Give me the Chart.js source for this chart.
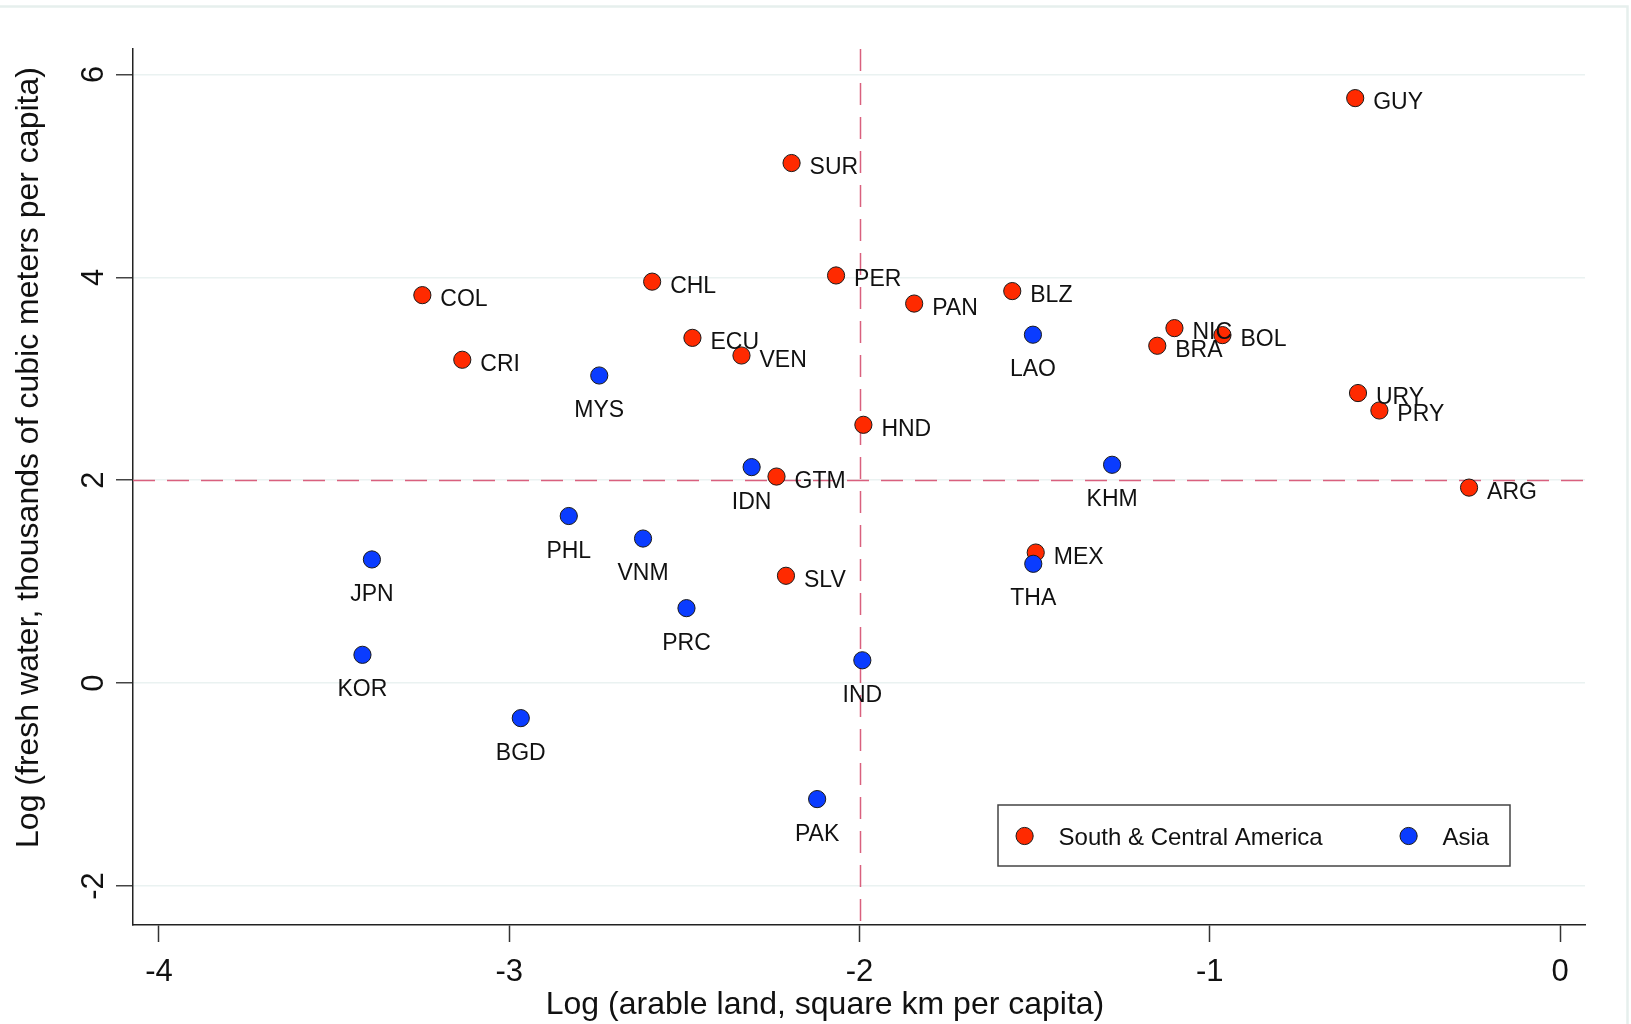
<!DOCTYPE html>
<html><head><meta charset="utf-8">
<script src="https://cdn.jsdelivr.net/npm/chart.js@4.4.1/dist/chart.umd.min.js"></script>
<style>html,body{margin:0;padding:0;background:#fff;}#wrap{width:1631px;height:1024px;position:relative;}</style>
</head><body><div id="wrap"><canvas id="c" width="1631" height="1024"></canvas></div>
<script>
// ---------- data ----------
const seriesNames = ['South & Central America', 'Asia'];
const americaCodes = ['GUY','SUR','COL','CHL','PER','PAN','BLZ','CRI','ECU','VEN','NIC','BRA','BOL','URY','PRY','ARG','HND','GTM','MEX','SLV'];
const americaX = [-0.585,-2.194,-3.248,-2.592,-2.067,-1.844,-1.564,-3.134,-2.477,-2.337,-1.101,-1.150,-0.964,-0.577,-0.516,-0.260,-1.989,-2.237,-1.497,-2.210];
const americaY = [5.766,5.126,3.824,3.957,4.018,3.741,3.864,3.187,3.403,3.229,3.499,3.325,3.430,2.859,2.687,1.927,2.546,2.036,1.287,1.058];
const asiaCodes = ['LAO','MYS','IDN','KHM','PHL','VNM','JPN','THA','PRC','KOR','IND','BGD','PAK'];
const asiaX = [-1.505,-2.743,-2.308,-1.279,-2.830,-2.618,-3.392,-1.504,-2.494,-3.419,-1.992,-2.967,-2.121];
const asiaY = [3.434,3.032,2.129,2.152,1.647,1.425,1.219,1.176,0.739,0.279,0.225,-0.345,-1.143];
const xTicks = [-4,-3,-2,-1,0];
const xTickLabels = ['-4','-3','-2','-1','0'];
const yTicks = [-2,0,2,4,6];
const yTickLabels = ['-2','0','2','4','6'];
const xRange = [-4.074, 0.071];
const yRange = [-2.384, 6.25];
const refX = -2, refY = 2;
const xTitle = 'Log (arable land, square km per capita)';
const yTitle = 'Log (fresh water, thousands of cubic meters per capita)';

// ---------- style ----------
const FAM = '"Liberation Sans", Arial, Helvetica, sans-serif';
const RED = '#ff2a00', BLUE = '#0a3cff', EDGE = '#1a1a1a';
const toPts = (xs, ys) => xs.map((x, i) => ({x: x, y: ys[i]}));

const overlay = {
  id: 'overlay',
  beforeDatasetsDraw(chart) {
    const {ctx, chartArea: a, scales: {x, y}} = chart;
    ctx.save();
    ctx.strokeStyle = '#d9607e';
    ctx.lineWidth = 1.5;
    ctx.setLineDash([22, 12]);
    const px = Math.round(x.getPixelForValue(refX)) + 0.5;
    ctx.beginPath(); ctx.moveTo(px, a.top); ctx.lineTo(px, a.bottom); ctx.stroke();
    const py = Math.round(y.getPixelForValue(refY)) + 0.5;
    ctx.beginPath(); ctx.moveTo(a.left, py); ctx.lineTo(a.right, py); ctx.stroke();
    ctx.restore();
  },
  afterDatasetDraw(chart, args) {
    const ds = chart.data.datasets[args.index];
    const meta = args.meta;
    const ctx = chart.ctx;
    ctx.save();
    ctx.font = '23px ' + FAM;
    ctx.fillStyle = '#111';
    ctx.textBaseline = 'alphabetic';
    meta.data.forEach((el, i) => {
      const t = ds.codes[i];
      if (ds.labelPos === 'right') {
        ctx.textAlign = 'left';
        ctx.fillText(t, el.x + 18, el.y + 11);
      } else {
        ctx.textAlign = 'center';
        ctx.fillText(t, el.x, el.y + 41.5);
      }
    });
    ctx.restore();
  },
  afterDraw(chart) {
    const {ctx, scales: {y}} = chart;
    ctx.save();
    // y tick labels (rotated)
    ctx.fillStyle = '#111';
    ctx.font = '31px ' + FAM;
    ctx.textAlign = 'center';
    ctx.textBaseline = 'alphabetic';
    yTicks.forEach((v, i) => {
      ctx.save();
      ctx.translate(103.3, y.getPixelForValue(v));
      ctx.rotate(-Math.PI / 2);
      ctx.fillText(yTickLabels[i], 0, 0);
      ctx.restore();
    });
    // titles
    ctx.font = '32px ' + FAM;
    ctx.fillText(xTitle, 825, 1014);
    ctx.save();
    ctx.translate(38.3, 457.5);
    ctx.rotate(-Math.PI / 2);
    ctx.fillText(yTitle, 0, 0);
    ctx.restore();
    // legend
    ctx.strokeStyle = '#444';
    ctx.lineWidth = 1.5;
    ctx.strokeRect(998, 805, 512, 61);
    const mk = (cx, cy, col) => {
      ctx.beginPath(); ctx.arc(cx, cy, 8.6, 0, Math.PI * 2);
      ctx.fillStyle = col; ctx.fill();
      ctx.lineWidth = 1; ctx.strokeStyle = EDGE; ctx.stroke();
    };
    mk(1024.6, 836, RED);
    mk(1408.6, 836, BLUE);
    ctx.fillStyle = '#111';
    ctx.font = '24px ' + FAM;
    ctx.textAlign = 'left';
    ctx.fillText(seriesNames[0], 1058.6, 845);
    ctx.fillText(seriesNames[1], 1442.5, 845);
    // outer frame
    ctx.strokeStyle = '#e6efed';
    ctx.lineWidth = 2.5;
    ctx.beginPath(); ctx.moveTo(0, 6.5); ctx.lineTo(1627.5, 6.5); ctx.lineTo(1627.5, 1024); ctx.stroke();
    ctx.restore();
  }
};

new Chart(document.getElementById('c'), {
  type: 'scatter',
  data: {
    datasets: [
      {label: seriesNames[0], codes: americaCodes, labelPos: 'right', data: toPts(americaX, americaY),
       backgroundColor: RED, borderColor: EDGE, borderWidth: 1, pointRadius: 8.6, pointHoverRadius: 8.6, order: 1},
      {label: seriesNames[1], codes: asiaCodes, labelPos: 'below', data: toPts(asiaX, asiaY),
       backgroundColor: BLUE, borderColor: EDGE, borderWidth: 1, pointRadius: 8.6, pointHoverRadius: 8.6, order: 0}
    ]
  },
  options: {
    responsive: false,
    animation: false,
    devicePixelRatio: 1,
    layout: {padding: {top: 49, right: 46, left: 0, bottom: 0}},
    plugins: {legend: {display: false}, tooltip: {enabled: false}},
    scales: {
      x: {
        type: 'linear', position: 'bottom', min: xRange[0], max: xRange[1],
        afterBuildTicks: s => { s.ticks = xTicks.map(v => ({value: v})); },
        afterFit: s => { s.height = 99; },
        grid: {drawOnChartArea: false, drawTicks: true, tickLength: 17, tickColor: '#333', tickWidth: 1.5},
        border: {display: true, color: '#222', width: 1.5},
        ticks: {font: {size: 31, family: FAM}, color: '#111', padding: 12,
                callback: (v, i) => xTickLabels[i]}
      },
      y: {
        type: 'linear', min: yRange[0], max: yRange[1],
        afterBuildTicks: s => { s.ticks = yTicks.map(v => ({value: v})); },
        afterFit: s => { s.width = 133; },
        grid: {color: '#eaf2f1', lineWidth: 1.5, drawTicks: true, tickLength: 17, tickColor: '#444', tickWidth: 1.5},
        border: {display: true, color: '#222', width: 1.5},
        ticks: {display: false}
      }
    }
  },
  plugins: [overlay]
});
</script></body></html>
